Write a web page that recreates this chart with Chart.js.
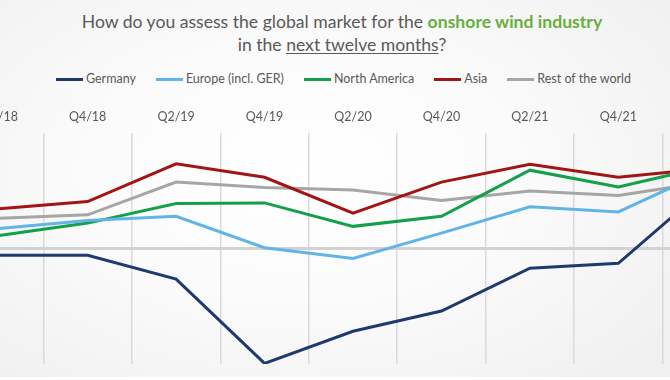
<!DOCTYPE html>
<html><head><meta charset="utf-8">
<script src="https://cdn.jsdelivr.net/npm/chart.js@4/dist/chart.umd.min.js"></script>
<style>
html,body{margin:0;padding:0;width:670px;height:380px;overflow:hidden;}
body{position:relative;background:linear-gradient(to bottom, rgba(255,255,255,0) 0, rgba(255,255,255,0) 377px, #ffffff 377px),radial-gradient(ellipse 70% 75% at 45% 45%, #ffffff 0%, #fbfbfb 45%, #f0f0f0 100%);font-family:Lato,'Open Sans',sans-serif;}
#title{position:absolute;left:0;top:10px;width:684px;text-align:center;color:#595959;font-size:17.6px;line-height:23px;white-space:nowrap;}
#title .g{color:#6aae3f;font-weight:bold;}
#title .u{text-decoration:underline;text-underline-offset:2px;text-decoration-thickness:1px;}
#legend{position:absolute;left:0;top:71px;width:687px;display:flex;justify-content:center;gap:20px;font-size:12.5px;color:#595959;line-height:16px;}
#legend .it{display:flex;align-items:center;}
#legend .ln{display:inline-block;width:27px;height:3px;margin-right:3px;}
#wrap{position:absolute;left:-45px;top:0;width:796px;height:380px;}
</style></head>
<body>
<div id="title">How do you assess the global market for the <span class="g">onshore wind industry</span><br>in the <span class="u">next twelve months</span>?</div>
<div id="legend"></div>
<div id="wrap"><canvas id="c" width="796" height="380"></canvas></div>
<script>
const categories = ['Q2/18','Q4/18','Q2/19','Q4/19','Q2/20','Q4/20','Q2/21','Q4/21','Q2/22'];
const seriesNames = ['Germany','Europe (incl. GER)','North America','Asia','Rest of the world'];
const germany      = [-3.5, -3.5, -15.9, -59.7, -43.0, -32.5, -10.2, -7.7, 32.0];
const europe       = [10.4, 14.5, 16.7, 0.4, -5.2, 8.0, 21.7, 19.0, 40.2];
const northAmerica = [6.7, 13.2, 23.4, 23.7, 11.5, 16.7, 40.7, 32.0, 42.6];
const asia         = [20.7, 24.4, 44.0, 37.0, 18.4, 34.5, 43.7, 37.0, 41.5];
const restOfWorld  = [15.7, 17.5, 34.5, 31.7, 30.4, 24.9, 29.9, 27.5, 34.5];
const colors = ['#1f3a6e','#62b4e8','#13a04a','#a31515','#a6a6a6'];
const seriesValues = [germany, europe, northAmerica, asia, restOfWorld];

const leg = document.getElementById('legend');
seriesNames.forEach((n,i)=>{
  const it=document.createElement('span');it.className='it';
  const ln=document.createElement('span');ln.className='ln';ln.style.background=colors[i];
  const tx=document.createElement('span');tx.textContent=n;
  it.appendChild(ln);it.appendChild(tx);leg.appendChild(it);
});

new Chart(document.getElementById('c'), {
  type:'line',
  data:{
    labels:categories,
    datasets:seriesNames.map((n,i)=>({
      label:n, data:seriesValues[i], borderColor:colors[i], backgroundColor:colors[i],
      borderWidth:3, pointRadius:0, tension:0, fill:false
    }))
  },
  options:{
    responsive:false, animation:false, devicePixelRatio:1,
    layout:{padding:{top:100,bottom:16,left:0,right:0}},
    plugins:{legend:{display:false},tooltip:{enabled:false},title:{display:false}},
    scales:{
      x:{type:'category',position:'top',offset:true,
        grid:{offset:true,color:'#dadada',lineWidth:1.5,drawTicks:false},
        border:{display:false},
        ticks:{color:'#595959',font:{family:'Lato',size:12.5},padding:9,autoSkip:false,maxRotation:0}},
      y:{min:-60,max:60,
        ticks:{display:false},
        grid:{color:'#d2d2d2',lineWidth:3,drawTicks:false},
        border:{display:false},
        afterBuildTicks:(s)=>{s.ticks=[{value:0}];}}
    }
  }
});
</script>
</body></html>
